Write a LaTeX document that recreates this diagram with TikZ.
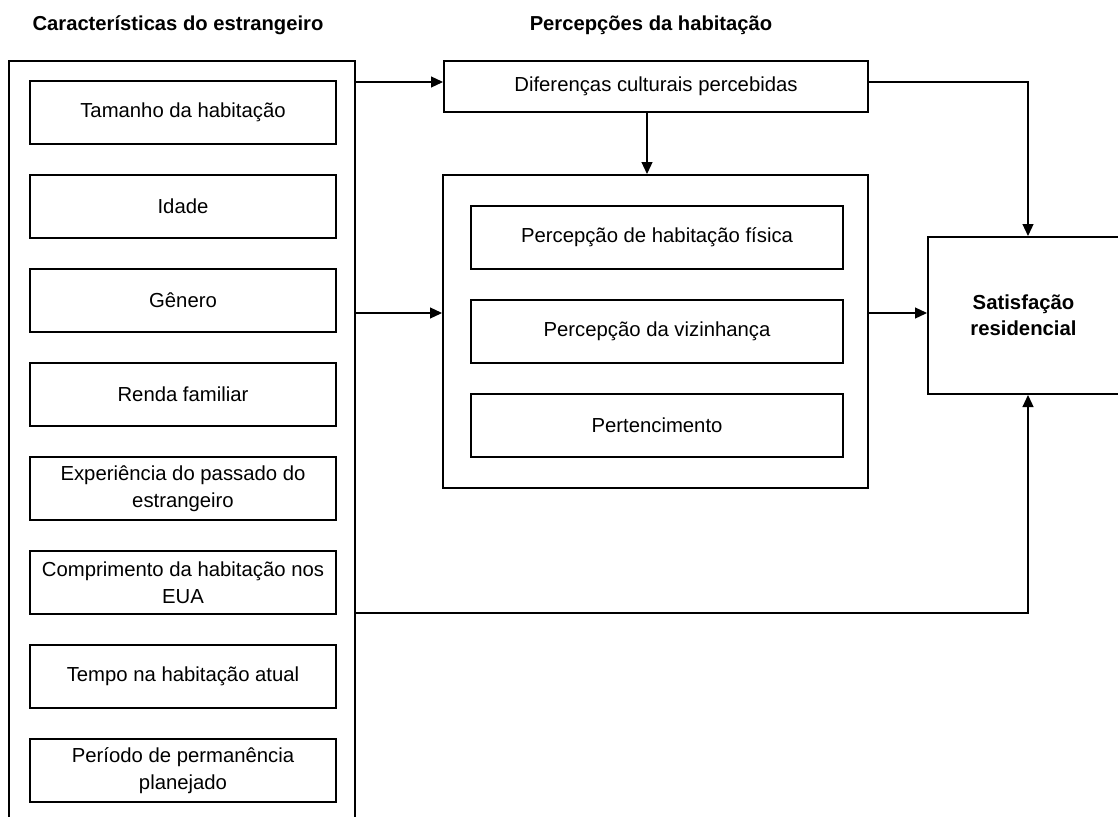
\documentclass[tikz,border=0pt]{standalone}
\usepackage{fontspec}
\setmainfont{Liberation Sans}
\usetikzlibrary{arrows.meta,calc}
\begin{document}
\begin{tikzpicture}[x=1pt,y=-1pt,
  frame/.style={draw=black,line width=2pt,inner sep=0pt},
  item/.style={frame,minimum width=306pt,minimum height=63pt,align=center,
    font=\fontsize{20.3}{27}\selectfont},
  pitem/.style={item,minimum width=372pt},
  title/.style={font=\bfseries\fontsize{20.2}{24}\selectfont},
  arr/.style={line width=1.2pt,-{Triangle[length=12pt,width=11pt]}},
  link/.style={line width=1.2pt}]
\useasboundingbox (0,0) rectangle (1118,816);
\clip (0,0) rectangle (1118,816);
\fill[white] (0,0) rectangle (1118,816);

% column titles
\node[title] (t1) at (178,25) {Características do estrangeiro};
\node[title] (t2) at (651,25) {Percepções da habitação};

% characteristics column
\node[frame,minimum width=346pt,minimum height=764pt] (L) at (182,443) {};
\foreach \n/\txt [count=\i from 0] in {
  a/Tamanho da habitação,
  b/Idade,
  c/Gênero,
  d/Renda familiar,
  e/{Experiência do passado do\\estrangeiro},
  f/{Comprimento da habitação nos\\EUA},
  g/Tempo na habitação atual,
  h/{Período de permanência\\planejado}}
  \node[item] (\n) at (183,112+94.1*\i) {\txt};

% housing perceptions
\node[frame,minimum width=424pt,minimum height=51pt,
  font=\fontsize{20.3}{27}\selectfont] (D) at (656,86.5) {Diferenças culturais percebidas};
\node[frame,minimum width=425pt,minimum height=313pt] (M) at (655.5,331.5) {};
\node[pitem] (p1) at (657,237.5) {Percepção de habitação física};
\node[pitem] (p2) at (657,331.5) {Percepção da vizinhança};
\node[pitem] (p3) at (657,425.5) {Pertencimento};

% outcome
\node[frame,minimum width=191pt,minimum height=157pt,align=center,
  font=\bfseries\fontsize{20.3}{26}\selectfont] (S) at (1023.5,315.5) {Satisfação\\residencial};

% routing points
\coordinate (y1) at (0,82);
\coordinate (y2) at (0,313);
\coordinate (y3) at (0,613);
\coordinate (xd) at (647,0);
\coordinate (xs) at (1028,0);

% connectors
\draw[arr] (L.east |- y1) -- (D.west |- y1);
\draw[arr] (D.south -| xd) -- (M.north -| xd);
\draw[arr] (D.east |- y1) -- (xs |- y1) -- (S.north -| xs);
\draw[arr] (L.east |- y2) -- (M.west |- y2);
\draw[arr] (M.east |- y2) -- (S.west |- y2);
\draw[arr] (L.east |- y3) -- (xs |- y3) -- (S.south -| xs);
\end{tikzpicture}
\end{document}
